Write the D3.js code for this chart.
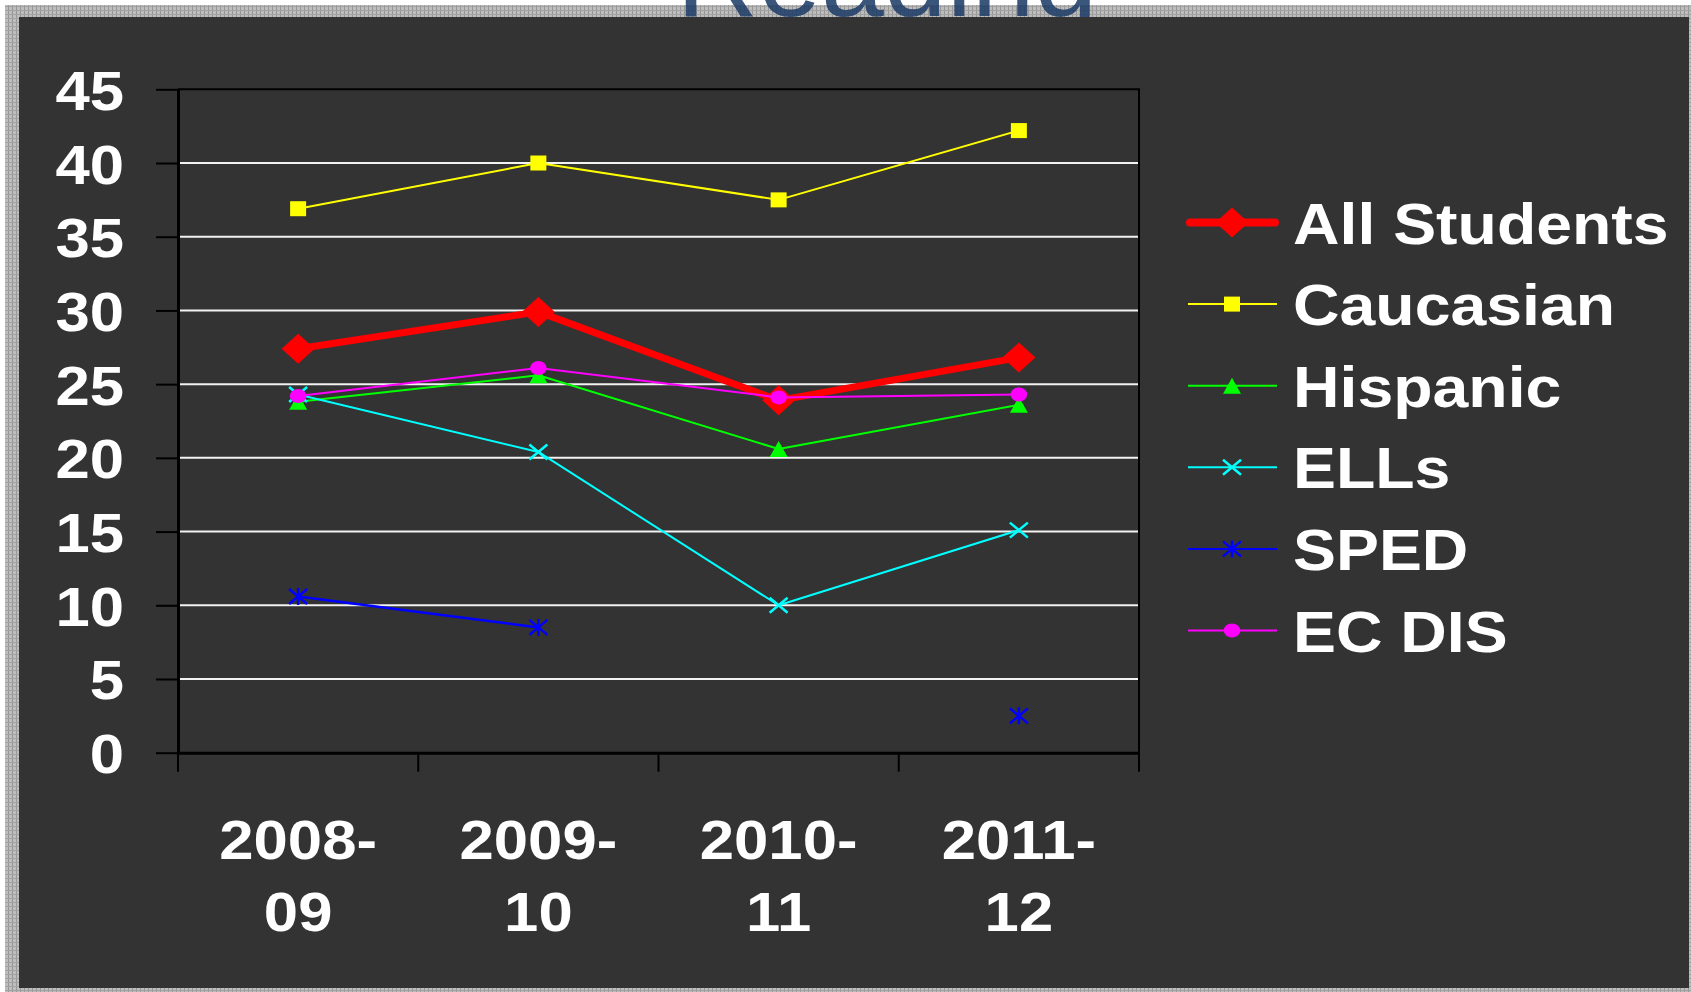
<!DOCTYPE html>
<html>
<head>
<meta charset="utf-8">
<script src="https://cdn.jsdelivr.net/npm/d3@7"></script>
<style>
  html, body { margin: 0; padding: 0; background: #fff; }
  svg { display: block; }
  text { font-family: Arial, "Liberation Sans", Helvetica, sans-serif; }
</style>
</head>
<body>
<svg id="chart" width="1691" height="992"></svg>
<script>
// data
const years = ['2008-09', '2009-10', '2010-11', '2011-12'];
const allStudents = [27.4, 29.9, 23.9, 26.8];
const caucasian = [36.9, 40.0, 37.5, 42.2];
const hispanic = [23.8, 25.6, 20.6, 23.6];
const ells = [24.3, 20.4, 10.0, 15.1];
const sped = [10.6, 8.5, null, 2.5];
const ecDis = [24.2, 26.1, 24.1, 24.3];
const yTicks = [0, 5, 10, 15, 20, 25, 30, 35, 40, 45];

const series = [
  { name: 'All Students', values: allStudents, color: '#ff0000', width: 7, marker: 'diamond' },
  { name: 'Caucasian', values: caucasian, color: '#ffff00', width: 2, marker: 'square' },
  { name: 'Hispanic', values: hispanic, color: '#00ff00', width: 2, marker: 'triangle' },
  { name: 'ELLs', values: ells, color: '#00ffff', width: 2, marker: 'cross' },
  { name: 'SPED', values: sped, color: '#0000ff', width: 2.5, marker: 'star' },
  { name: 'EC DIS', values: ecDis, color: '#ff00ff', width: 2, marker: 'circle' }
];

const W = 1691, H = 992;
const plot = { left: 178, right: 1139, top: 89.3, bottom: 752.7 };
const stretch = 1.1; // the text in the original is a bit wide
const legendStretch = 1.13;
const fontSize = 56;

const svg = d3.select('#chart');

// textured grey frame
const defs = svg.append('defs');
const pat = defs.append('pattern')
  .attr('id', 'frame')
  .attr('width', 4).attr('height', 4)
  .attr('patternUnits', 'userSpaceOnUse');
pat.append('rect').attr('width', 4).attr('height', 4).attr('fill', '#bdbdbd');
pat.append('rect').attr('x', 0).attr('width', 1).attr('height', 4).attr('fill', '#969696');
pat.append('rect').attr('y', 2).attr('width', 4).attr('height', 1).attr('fill', '#a2a2a2');

svg.append('rect').attr('width', W).attr('height', H).attr('fill', '#fff');
svg.append('rect').attr('x', 5).attr('y', 5).attr('width', W - 5).attr('height', H - 5).attr('fill', 'url(#frame)');

// slide title, mostly hidden behind the panel
svg.append('text')
  .attr('x', 887)
  .attr('y', 16)
  .attr('text-anchor', 'middle')
  .attr('font-size', 113)
  .attr('fill', '#213f69')
  .attr('opacity', 0.88)
  .text('Reading');

svg.append('rect')
  .attr('x', 19).attr('y', 17)
  .attr('width', 1689 - 19).attr('height', 988 - 17)
  .attr('fill', '#333333');

const x = d3.scaleBand().domain(years).range([plot.left, plot.right]);
const y = d3.scaleLinear().domain([0, 45]).range([plot.bottom, plot.top]);
const cx = d => x(d) + x.bandwidth() / 2;

// gridlines
svg.append('g')
  .selectAll('line')
  .data(yTicks.filter(t => t > 0 && t < 45))
  .join('line')
  .attr('x1', plot.left).attr('x2', plot.right)
  .attr('y1', d => y(d)).attr('y2', d => y(d))
  .attr('stroke', '#f2f2f2')
  .attr('stroke-width', 2);

// plot border top / right
svg.append('path')
  .attr('d', `M${plot.left},${plot.top}H${plot.right}V${plot.bottom}`)
  .attr('fill', 'none')
  .attr('stroke', '#000')
  .attr('stroke-width', 2);

// y axis
const yAxis = svg.append('g')
  .attr('transform', `translate(${plot.left},0)`)
  .call(d3.axisLeft(y).tickValues(yTicks).tickSize(22).tickSizeOuter(0));
yAxis.select('.domain').attr('stroke', '#000').attr('stroke-width', 3);
yAxis.selectAll('.tick line').attr('stroke', '#000').attr('stroke-width', 2);
yAxis.selectAll('.tick text')
  .attr('x', -(plot.left - 124) / stretch)
  .attr('dy', null)
  .attr('y', 20)
  .attr('transform', `scale(${stretch},1)`)
  .attr('fill', '#fff')
  .attr('font-size', fontSize)
  .attr('font-weight', 'bold')
  .attr('font-family', 'Arial, "Liberation Sans", sans-serif');

// x axis: line, boundary ticks, two-line labels
const xAxis = svg.append('g')
  .attr('transform', `translate(0,${plot.bottom})`)
  .call(d3.axisBottom(x).tickSize(0).tickFormat(''));
xAxis.select('.domain').attr('stroke', '#000').attr('stroke-width', 3);

const bounds = years.map(d => x(d)).concat([x.range()[1]]);
xAxis.append('g')
  .selectAll('line')
  .data(bounds)
  .join('line')
  .attr('x1', d => d).attr('x2', d => d)
  .attr('y1', 0).attr('y2', 19)
  .attr('stroke', '#000')
  .attr('stroke-width', 2);

const xLabels = svg.append('g')
  .selectAll('text')
  .data(years)
  .join('text')
  .attr('transform', d => `translate(${cx(d)},0) scale(${stretch},1)`)
  .attr('text-anchor', 'middle')
  .attr('fill', '#fff')
  .attr('font-size', fontSize)
  .attr('font-weight', 'bold');
xLabels.append('tspan').attr('x', 0).attr('y', 859).text(d => d.split('-')[0] + '-');
xLabels.append('tspan').attr('x', 0).attr('y', 930.7).text(d => d.split('-')[1]);

// marker shapes
function drawMarker(g, type, color) {
  if (type === 'diamond') {
    g.append('path').attr('d', 'M0,-15L16.5,0L0,15L-16.5,0Z').attr('fill', color);
  } else if (type === 'square') {
    g.append('rect').attr('x', -8).attr('y', -7.5).attr('width', 16).attr('height', 15).attr('fill', color);
  } else if (type === 'triangle') {
    g.append('path').attr('d', 'M0,-8L9,8L-9,8Z').attr('fill', color);
  } else if (type === 'cross' || type === 'star') {
    let d = 'M-9,-7.5L9,7.5M-9,7.5L9,-7.5';
    if (type === 'star') d += 'M0,-8.5V8.5';
    g.append('path').attr('d', d).attr('stroke', color).attr('stroke-width', 2.5).attr('fill', 'none');
  } else if (type === 'circle') {
    g.append('ellipse').attr('rx', 8.3).attr('ry', 7).attr('fill', color);
  }
}

// series lines + markers
const line = d3.line()
  .defined(d => d.v != null)
  .x(d => cx(d.year))
  .y(d => y(d.v));

series.forEach(s => {
  const pts = years.map((yr, i) => ({ year: yr, v: s.values[i] }));
  const g = svg.append('g').attr('class', 'series');
  g.append('path')
    .attr('d', line(pts))
    .attr('fill', 'none')
    .attr('stroke', s.color)
    .attr('stroke-width', s.width)
    .attr('stroke-linejoin', 'round');
  g.selectAll('.pt')
    .data(pts.filter(p => p.v != null))
    .join('g')
    .attr('class', 'pt')
    .attr('transform', p => `translate(${cx(p.year)},${y(p.v)})`)
    .each(function() { drawMarker(d3.select(this), s.marker, s.color); });
});

// legend
const legend = svg.append('g').attr('class', 'legend');
const rowY = d3.scalePoint().domain(series.map(s => s.name)).range([222.5, 630.5]);
series.forEach(s => {
  const row = legend.append('g').attr('transform', `translate(0,${rowY(s.name)})`);
  const first = s.marker === 'diamond';
  row.append('line')
    .attr('x1', first ? 1190 : 1188).attr('x2', first ? 1275 : 1277)
    .attr('stroke', s.color)
    .attr('stroke-width', first ? 8 : 2)
    .attr('stroke-linecap', first ? 'round' : 'butt');
  drawMarker(row.append('g').attr('transform', 'translate(1232,0)'), s.marker, s.color);
  row.append('text')
    .attr('transform', `translate(1293,21) scale(${legendStretch},1)`)
    .attr('fill', '#fff')
    .attr('font-size', 57)
    .attr('font-weight', 'bold')
    .text(s.name);
});
</script>
</body>
</html>
